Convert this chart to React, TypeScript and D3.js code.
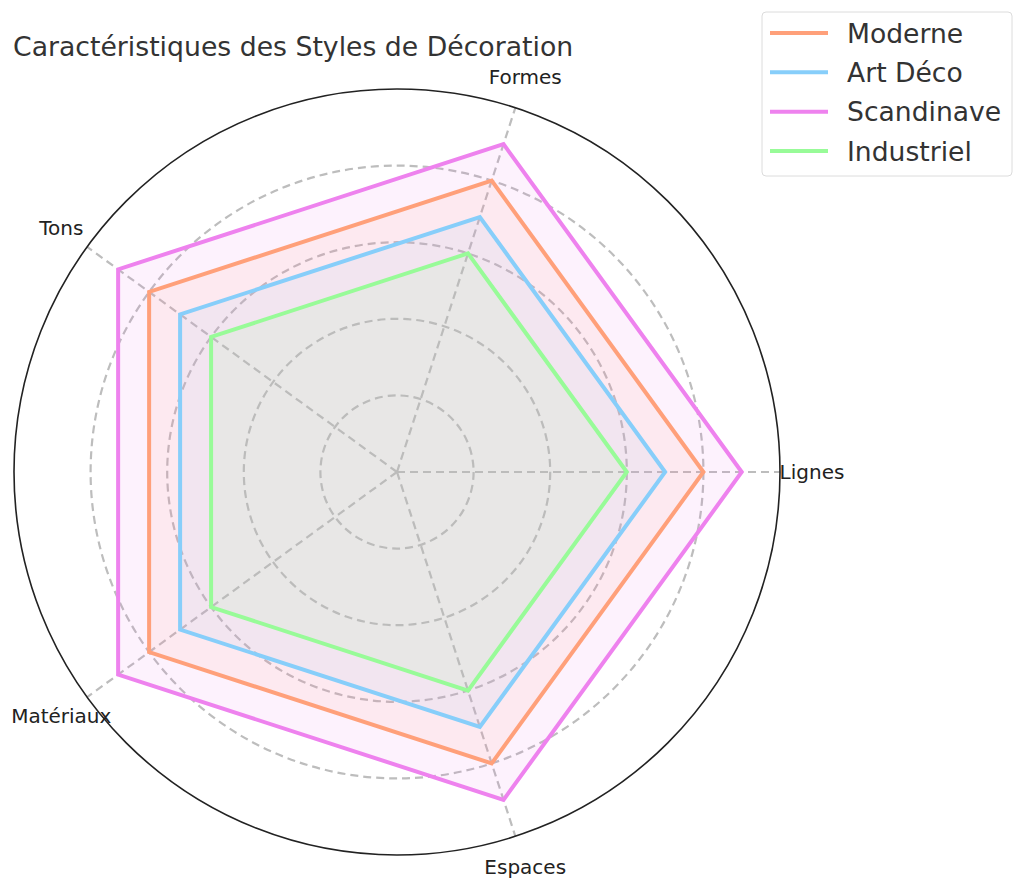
import { useRef, useEffect } from 'react';
import * as d3 from 'd3';

const axes = ['Lignes', 'Formes', 'Tons', 'Matériaux', 'Espaces'];
const seriesNames = ['Moderne', 'Art Déco', 'Scandinave', 'Industriel'];
const moderne = [4, 4, 4, 4, 4];
const artDeco = [3.5, 3.5, 3.5, 3.5, 3.5];
const scandinave = [4.5, 4.5, 4.5, 4.5, 4.5];
const industriel = [3, 3, 3, 3, 3];
const seriesValues = [moderne, artDeco, scandinave, industriel];
const seriesColors = ['#FFA07A', '#87CEFA', '#EE82EE', '#98FB98'];
const gridTicks = [1, 2, 3, 4];
const maxValue = 5;

const WIDTH = 1024;
const HEIGHT = 889;

const App = () => {
  const svgRef = useRef<SVGSVGElement>(null);

  useEffect(() => {
    if (!svgRef.current) return;
    const svg = d3.select(svgRef.current);
    svg.selectAll('*').remove();

    const cx = 397;
    const cy = 472;
    const radius = 383;
    const font = 'DejaVu Sans, sans-serif';

    const r = d3.scaleLinear().domain([0, maxValue]).range([0, radius]);
    // axis i sits at i * 72deg counter-clockwise from the right; d3 angles run clockwise from the top
    const angle = d3
      .scaleLinear()
      .domain([0, axes.length])
      .range([Math.PI / 2, Math.PI / 2 - 2 * Math.PI]);

    const g = svg.append('g').attr('transform', `translate(${cx},${cy})`);

    // Grid circles
    g.selectAll('circle.grid')
      .data(gridTicks)
      .join('circle')
      .attr('class', 'grid')
      .attr('r', (d) => r(d))
      .attr('fill', 'none')
      .attr('stroke', '#bdbdbd')
      .attr('stroke-width', 2.2)
      .attr('stroke-dasharray', '8,5');

    // Spokes
    g.selectAll('line.spoke')
      .data(axes)
      .join('line')
      .attr('class', 'spoke')
      .attr('x1', 0)
      .attr('y1', 0)
      .attr('x2', (_, i) => r(maxValue) * Math.sin(angle(i)))
      .attr('y2', (_, i) => -r(maxValue) * Math.cos(angle(i)))
      .attr('stroke', '#bdbdbd')
      .attr('stroke-width', 2.2)
      .attr('stroke-dasharray', '8,5');

    // Outer frame
    g.append('circle')
      .attr('r', r(maxValue))
      .attr('fill', 'none')
      .attr('stroke', '#222')
      .attr('stroke-width', 1.6);

    const radial = d3
      .lineRadial<number>()
      .angle((_, i) => angle(i))
      .radius((d) => r(d))
      .curve(d3.curveLinearClosed);

    // Fills
    seriesValues.forEach((vals, k) => {
      g.append('path')
        .attr('d', radial(vals))
        .attr('fill', seriesColors[k])
        .attr('fill-opacity', 0.1)
        .attr('stroke', 'none');
    });

    // Lines
    seriesValues.forEach((vals, k) => {
      g.append('path')
        .attr('d', radial(vals))
        .attr('fill', 'none')
        .attr('stroke', seriesColors[k])
        .attr('stroke-width', 4)
        .attr('stroke-linejoin', 'miter');
    });

    // Axis labels
    const labelR = 415;
    g.selectAll('text.axis')
      .data(axes)
      .join('text')
      .attr('class', 'axis')
      .attr('x', (_, i) => labelR * Math.sin(angle(i)))
      .attr('y', (_, i) => -labelR * Math.cos(angle(i)))
      .attr('text-anchor', 'middle')
      .attr('dominant-baseline', 'central')
      .attr('font-family', font)
      .attr('font-size', '20px')
      .attr('fill', '#222')
      .text((d) => d);

    // Title
    svg
      .append('text')
      .attr('x', 13)
      .attr('y', 56)
      .attr('font-family', font)
      .attr('font-size', '26.7px')
      .attr('fill', '#333')
      .text('Caractéristiques des Styles de Décoration');

    // Legend
    const legend = svg.append('g').attr('transform', 'translate(762,12)');
    legend
      .append('rect')
      .attr('width', 250)
      .attr('height', 164)
      .attr('rx', 4)
      .attr('fill', '#fff')
      .attr('fill-opacity', 0.8)
      .attr('stroke', '#dcdcdc')
      .attr('stroke-width', 1);

    const rowY = d3.scalePoint().domain(seriesNames).range([21, 139]);
    const rows = legend
      .selectAll('g.row')
      .data(seriesNames)
      .join('g')
      .attr('class', 'row')
      .attr('transform', (d) => `translate(0,${rowY(d)})`);
    rows
      .append('line')
      .attr('x1', 8)
      .attr('x2', 66)
      .attr('stroke', (_, i) => seriesColors[i])
      .attr('stroke-width', 4);
    rows
      .append('text')
      .attr('x', 85)
      .attr('dominant-baseline', 'central')
      .attr('font-family', font)
      .attr('font-size', '26.6px')
      .attr('fill', '#333')
      .text((d) => d);
  }, []);

  return (
    <svg
      ref={svgRef}
      width={WIDTH}
      height={HEIGHT}
      style={{ position: 'absolute', left: 0, top: 0, background: '#fff' }}
    />
  );
};

export default App;
